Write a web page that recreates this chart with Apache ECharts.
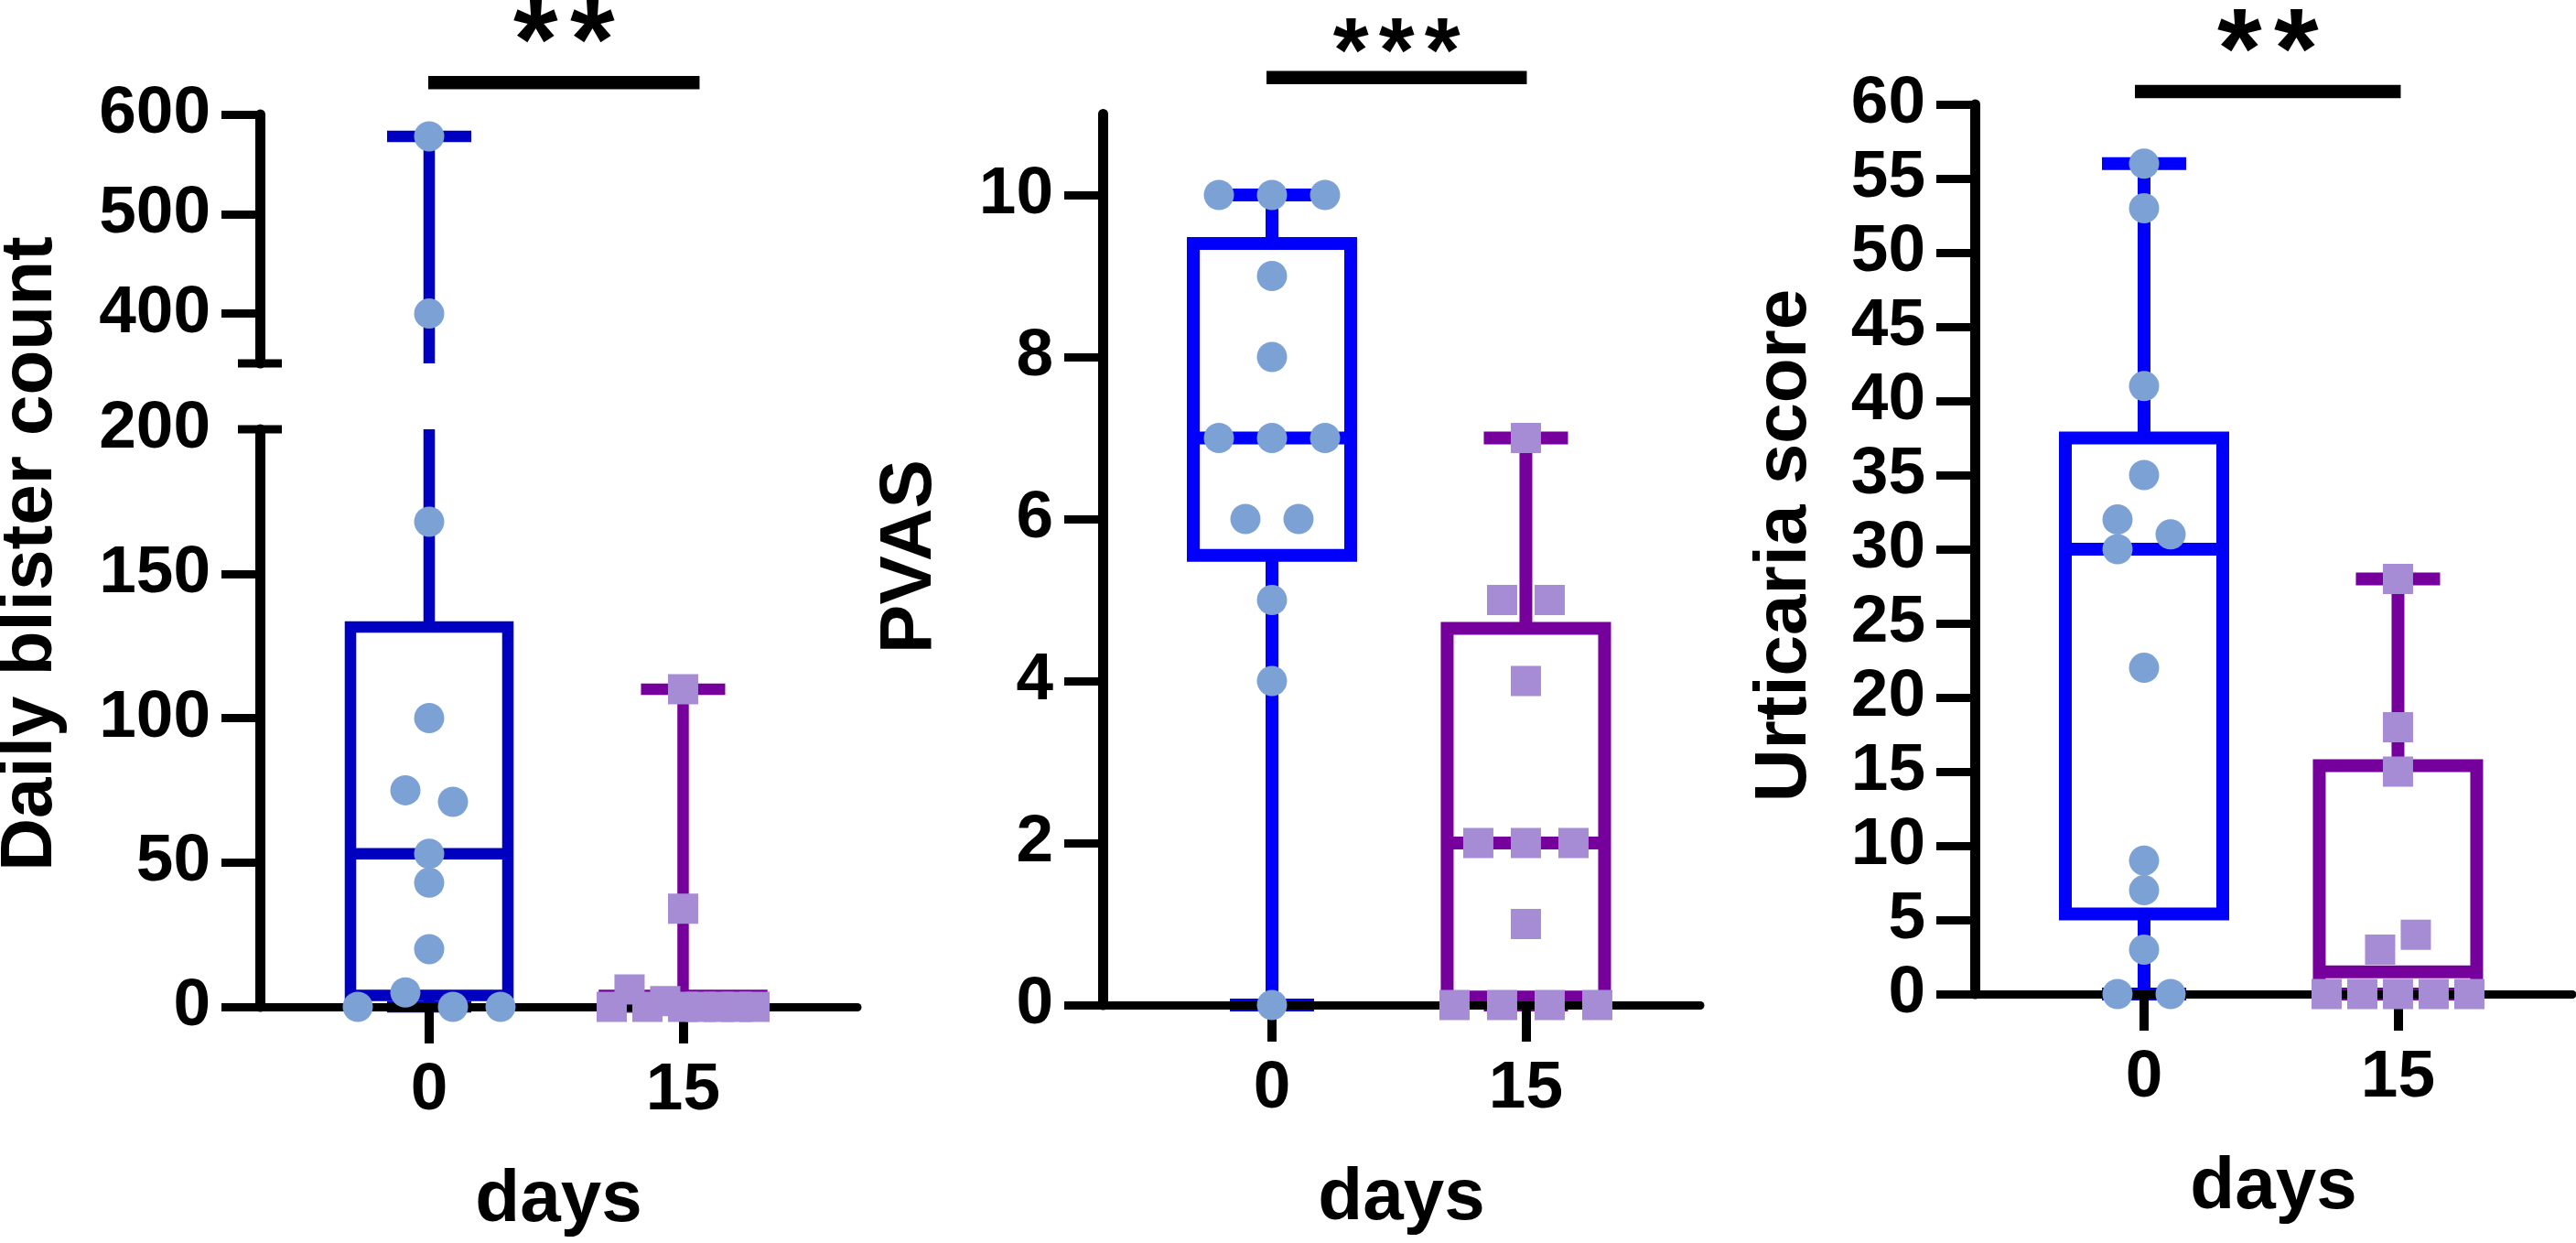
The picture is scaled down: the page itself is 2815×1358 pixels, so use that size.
<!DOCTYPE html>
<html lang="en">
<head>
<meta charset="UTF-8">
<title>blister / PVAS / urticaria</title>
<style>
  html, body { margin: 0; padding: 0; background: #fff; }
  #main { width: 2815px; height: 1358px; }
</style>
</head>
<body>
<div id="main"></div>
<script src="https://cdn.jsdelivr.net/npm/echarts@6.0.0/dist/echarts.min.js"></script>
<script>
// x categories
var dayLabels = ['0', '15'];
var dayPos = [0, 15];

// Daily blister count (broken axis)
var blisterDay0 = [578, 400, 168, 100, 75, 71, 53, 43, 20, 0, 5, 0, 0];
var blisterDay15 = [110, 34, 0, 6, 0, 2, 0, 0, 0, 0, 0];
var blisterBox0 = [0, 4, 53, 131.5, 578];      // min, q1, median, q3, max
var blisterBox15 = [0, 0, 0, 4, 110];
var blisterTicksLow = [0, 50, 100, 150, 200];
var blisterTicksHigh = [400, 500, 600];

// PVAS
var pvasDay0 = [10, 10, 10, 9, 8, 7, 7, 7, 6, 6, 5, 4, 0];
var pvasDay15 = [7, 5, 5, 4, 2, 2, 2, 1, 0, 0, 0, 0];
var pvasBox0 = [0, 5.55, 7, 9.4, 10];
var pvasBox15 = [0, 0.1, 2, 4.65, 7];
var pvasTicks = [0, 2, 4, 6, 8, 10];

// Urticaria score
var urtDay0 = [56, 53, 41, 35, 32, 31, 30, 22, 9, 7, 3, 0, 0];
var urtDay15 = [28, 18, 15, 3, 4, 0, 0, 0, 0, 0];
var urtBox0 = [0, 5.4, 30, 37.5, 56];
var urtBox15 = [0, 0, 1.5, 15.4, 28];
var urtTicks = [0, 5, 10, 15, 20, 25, 30, 35, 40, 45, 50, 55, 60];

var FONT = "'Liberation Sans', Arial, Helvetica, sans-serif";
var BLUE_DARK = '#0000c0', BLUE = '#0000fa', PURPLE = '#75009b';
var DOT = '#7ca1d5', SQUARE = '#a68bd5';
var X_MIN = -10, X_MAX = 25.3;

var myChart = echarts.init(document.getElementById('main'));

// spread points sideways like a column scatter
function swarm(values, pxPerUnit) {
  var T = 30, BASE = 58, SPAN = 156;
  var idx = values.map(function (v, i) { return i; });
  idx.sort(function (a, b) { return values[b] - values[a] || a - b; });
  var chains = [], cur = [idx[0]];
  for (var k = 1; k < idx.length; k++) {
    if ((values[cur[cur.length - 1]] - values[idx[k]]) * pxPerUnit < T) cur.push(idx[k]);
    else { chains.push(cur); cur = [idx[k]]; }
  }
  chains.push(cur);
  var widest = 1;
  var rows = chains.map(function (c) {
    var ext = (values[c[0]] - values[c[c.length - 1]]) * pxPerUnit;
    var zig = c.length > 1 && ext >= T;
    var n = zig ? 2 : c.length;
    widest = Math.max(widest, n);
    return { c: c, zig: zig };
  });
  var s = widest > 1 ? Math.min(BASE, SPAN / (widest - 1)) : BASE;
  var off = values.map(function () { return 0; });
  rows.forEach(function (r) {
    if (r.zig) {
      r.c.forEach(function (i, j) { off[i] = (j % 2 ? 0.5 : -0.5) * s; });
    } else {
      var ord = r.c.slice().sort(function (a, b) { return a - b; });
      ord.forEach(function (i, j) { off[i] = (j - (ord.length - 1) / 2) * s; });
    }
  });
  return off;
}

function boxRender(color, lw, lo, hi) {
  var HALF = 86, CAP = 46;
  return function (params, api) {
    var x = api.value(0);
    var mn = api.value(1), q1 = api.value(2), md = api.value(3), q3 = api.value(4), mx = api.value(5);
    var cx = api.coord([x, md])[0];
    var py = function (v) { return api.coord([x, v])[1]; };
    var st = { stroke: color, lineWidth: lw, fill: null, lineCap: 'butt' };
    var kids = [];
    function seg(x1, y1, x2, y2) {
      kids.push({ type: 'line', shape: { x1: x1, y1: y1, x2: x2, y2: y2 }, style: st });
    }
    if (q1 >= lo && q3 <= hi) {
      kids.push({ type: 'rect', shape: { x: cx - HALF, y: py(q3), width: 2 * HALF, height: py(q1) - py(q3) },
        style: { stroke: color, lineWidth: lw, fill: null, lineJoin: 'miter' } });
      seg(cx - HALF, py(md), cx + HALF, py(md));
    }
    var a = Math.max(q3, lo), b = Math.min(mx, hi);
    if (b > a) seg(cx, py(a), cx, py(b));
    if (mx >= lo && mx <= hi) seg(cx - CAP, py(mx), cx + CAP, py(mx));
    a = Math.max(mn, lo); b = Math.min(q1, hi);
    if (b > a) seg(cx, py(a), cx, py(b));
    if (mn >= lo && mn <= hi) seg(cx - CAP, py(mn), cx + CAP, py(mn));
    return { type: 'group', children: kids };
  };
}

function boxSeries(g, stats, day, color, lw, lo, hi) {
  return {
    type: 'custom', xAxisIndex: g, yAxisIndex: g, z: 2, silent: true, clip: false,
    renderItem: boxRender(color, lw, lo, hi),
    data: [[day].concat(stats)]
  };
}

function dotSeries(g, values, offsets, day, shape, color, keep) {
  var data = [];
  values.forEach(function (v, i) {
    if (keep(v)) data.push({ value: [day, v], symbolOffset: [offsets[i], 0] });
  });
  return {
    type: 'scatter', xAxisIndex: g, yAxisIndex: g, z: 5, silent: true, clip: false,
    symbol: shape, symbolSize: 33, itemStyle: { color: color, opacity: 1 },
    emphasis: { disabled: true }, data: data
  };
}

function sigSeries(g, level, stars, opt) {
  return {
    type: 'custom', xAxisIndex: g, yAxisIndex: g, z: 5, silent: true, clip: false,
    renderItem: function (params, api) {
      var p0 = api.coord([dayPos[0], level]), p1 = api.coord([dayPos[1], level]);
      var kids = [{ type: 'line', shape: { x1: p0[0] - opt.l, y1: p0[1], x2: p1[0] + opt.r, y2: p0[1] },
        style: { stroke: '#000', lineWidth: 14.5, lineCap: 'butt' } }];
      var mid = (p0[0] - opt.l + p1[0] + opt.r) / 2;
      for (var i = 0; i < stars; i++) {
        kids.push({ type: 'text', style: {
          text: '*', x: mid + (i - (stars - 1) / 2) * opt.sp, y: p0[1] - opt.gap + opt.size * 0.22,
          fill: '#000', fontFamily: FONT, fontWeight: 'bold', fontSize: opt.size,
          align: 'center', verticalAlign: 'middle' } });
      }
      return { type: 'group', children: kids };
    },
    data: [[0, level]]
  };
}

function breakCap(g, value) {
  return {
    type: 'custom', xAxisIndex: g, yAxisIndex: g, z: 4, silent: true, clip: false,
    renderItem: function (params, api) {
      var p = api.coord([X_MIN, api.value(1)]);
      return { type: 'line', shape: { x1: p[0] - 24, y1: p[1], x2: p[0] + 24, y2: p[1] },
        style: { stroke: '#000', lineWidth: 9, lineCap: 'butt' } };
    },
    data: [[X_MIN, value]]
  };
}

var labelStyle = { color: '#000', fontFamily: FONT, fontWeight: 'bold', fontSize: 73 };

function xAxisFor(g, show) {
  return {
    type: 'value', gridIndex: g, min: X_MIN, max: X_MAX, show: show, z: 3,
    axisLine: { show: true, onZero: false, lineStyle: { color: '#000', width: 9 } },
    axisTick: { show: true, customValues: dayPos, length: 40, lineStyle: { color: '#000', width: 10 } },
    axisLabel: Object.assign({ customValues: dayPos, margin: 55,
      formatter: function (v) { return dayLabels[dayPos.indexOf(v)]; } }, labelStyle),
    splitLine: { show: false },
    name: 'days', nameLocation: 'middle', nameGap: 172,
    nameTextStyle: { color: '#000', fontFamily: FONT, fontWeight: 'bold', fontSize: 80 }
  };
}

function yAxisFor(g, min, max, ticks, labels) {
  return {
    type: 'value', gridIndex: g, min: min, max: max, z: 3,
    axisLine: { show: true, onZero: false, lineStyle: { color: '#000', width: 11 } },
    axisTick: { show: true, customValues: ticks, length: 42, lineStyle: { color: '#000', width: 9 } },
    axisLabel: Object.assign({ customValues: labels || ticks, margin: 54 }, labelStyle),
    splitLine: { show: false }
  };
}

// pixel scale of each value axis, for the sideways spread
var pxBlister = 631 / 200, pxPvas = 973.5 / 11, pxUrt = 972 / 60;
var offB0 = swarm(blisterDay0, pxBlister), offB15 = swarm(blisterDay15, pxBlister);
var offP0 = swarm(pvasDay0, pxPvas), offP15 = swarm(pvasDay15, pxPvas);
var offU0 = swarm(urtDay0, pxUrt), offU15 = swarm(urtDay15, pxUrt);
var isLow = function (v) { return v <= 200; }, isHigh = function (v) { return v >= 350; };
var all = function () { return true; };

var option = {
  animation: false,
  backgroundColor: '#fff',
  grid: [
    { left: 284, top: 125, width: 653, height: 272, outerBoundsMode: 'none' },   // blister upper
    { left: 284, top: 469, width: 653, height: 631, outerBoundsMode: 'none' },   // blister lower
    { left: 1205, top: 124.5, width: 653, height: 973.5, outerBoundsMode: 'none' },
    { left: 2158, top: 114, width: 653, height: 972, outerBoundsMode: 'none' }
  ],
  xAxis: [xAxisFor(0, false), xAxisFor(1, true), xAxisFor(2, true), xAxisFor(3, true)],
  yAxis: [
    yAxisFor(0, 350, 600, blisterTicksHigh),
    yAxisFor(1, 0, 200, blisterTicksLow.slice(0, 4), blisterTicksLow),
    yAxisFor(2, 0, 11, pvasTicks),
    yAxisFor(3, 0, 60, urtTicks)
  ],
  graphic: [
    { type: 'text', x: 34, y: 605, rotation: Math.PI / 2, style: { text: 'Daily blister count',
      fill: '#000', fontFamily: FONT, fontWeight: 'bold', fontSize: 80, align: 'center', verticalAlign: 'middle' } },
    { type: 'text', x: 995, y: 608, rotation: Math.PI / 2, style: { text: 'PVAS',
      fill: '#000', fontFamily: FONT, fontWeight: 'bold', fontSize: 80, align: 'center', verticalAlign: 'middle' } },
    { type: 'text', x: 1951, y: 596, rotation: Math.PI / 2, style: { text: 'Urticaria score',
      fill: '#000', fontFamily: FONT, fontWeight: 'bold', fontSize: 80, align: 'center', verticalAlign: 'middle' } }
  ],
  series: [
    breakCap(0, 350), breakCap(1, 200),
    boxSeries(0, blisterBox0, dayPos[0], BLUE_DARK, 12.5, 350, 600),
    boxSeries(1, blisterBox0, dayPos[0], BLUE_DARK, 12.5, 0, 200),
    boxSeries(1, blisterBox15, dayPos[1], PURPLE, 12.5, 0, 200),
    dotSeries(0, blisterDay0, offB0, dayPos[0], 'circle', DOT, isHigh),
    dotSeries(1, blisterDay0, offB0, dayPos[0], 'circle', DOT, isLow),
    dotSeries(1, blisterDay15, offB15, dayPos[1], 'rect', SQUARE, isLow),
    sigSeries(0, 632, 2, { l: 1, r: 18, sp: 62, size: 125, gap: 66 }),

    boxSeries(2, pvasBox0, dayPos[0], BLUE, 14, 0, 11),
    boxSeries(2, pvasBox15, dayPos[1], PURPLE, 14, 0, 11),
    dotSeries(2, pvasDay0, offP0, dayPos[0], 'circle', DOT, all),
    dotSeries(2, pvasDay15, offP15, dayPos[1], 'rect', SQUARE, all),
    sigSeries(2, 11.45, 3, { l: 6, r: 1, sp: 50, size: 100, gap: 45 }),

    boxSeries(3, urtBox0, dayPos[0], BLUE, 14, 0, 60),
    boxSeries(3, urtBox15, dayPos[1], PURPLE, 14, 0, 60),
    dotSeries(3, urtDay0, offU0, dayPos[0], 'circle', DOT, all),
    dotSeries(3, urtDay15, offU15, dayPos[1], 'rect', SQUARE, all),
    sigSeries(3, 60.86, 2, { l: 10, r: 3, sp: 62, size: 125, gap: 66 })
  ]
};
myChart.setOption(option);
</script>
</body>
</html>
